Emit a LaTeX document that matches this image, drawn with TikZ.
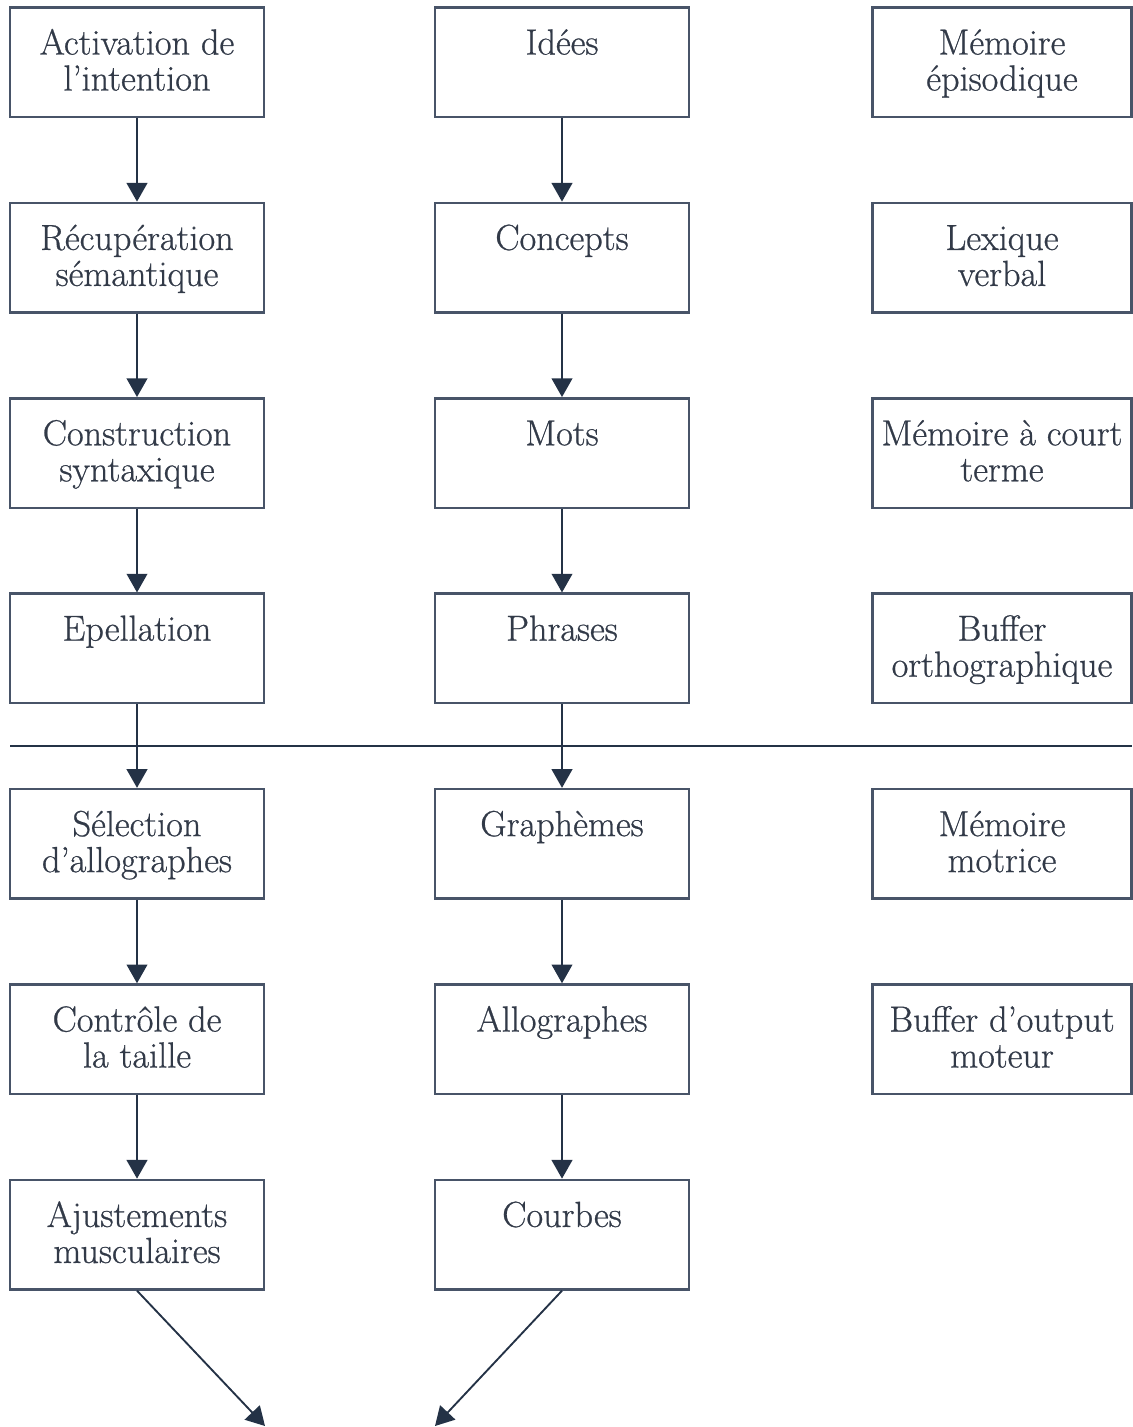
\documentclass[tikz,border=0pt]{standalone}
\usepackage{fontspec}
\usetikzlibrary{arrows.meta}
\newfontfamily\bxfont[Ligatures=TeX,RawFeature={embolden=0.7}]{Latin Modern Roman}
\definecolor{boxcol}{RGB}{72,84,104}
\definecolor{arrcol}{RGB}{36,50,70}
\definecolor{txtcol}{RGB}{50,58,72}
\newcommand\bxt[2][190pt]{\parbox[c][80pt][t]{#1}{\centering\bxfont\fontsize{27.2}{27}\selectfont\rule{0pt}{34.2pt}#2}}
\begin{document}
\begin{tikzpicture}[x=0.75pt,y=-0.75pt,
  box/.style={draw=boxcol, line width=1.9pt, text=txtcol, minimum width=190.5pt, minimum height=82.1pt, inner sep=0pt},
  rbox/.style={box, minimum width=194.25pt},
  arr/.style={draw=arrcol, line width=1.4pt, -{Triangle[width=15.5pt,length=14pt]}},
  sep/.style={draw=arrcol, line width=1.4pt}]
\useasboundingbox (0,0) rectangle (1132,1427);
% left column
\node[box] (a1) at (137,62.25) {\bxt{Activation de\\l’intention}};
\node[box] (a2) at (137,257.65) {\bxt{Récupération\\sémantique}};
\node[box] (a3) at (137,453.05) {\bxt{Construction\\syntaxique}};
\node[box] (a4) at (137,648.45) {\bxt{Epellation}};
\node[box] (a5) at (137,843.85) {\bxt{Sélection\\d’allographes}};
\node[box] (a6) at (137,1039.25) {\bxt{Contrôle de\\la taille}};
\node[box] (a7) at (137,1234.65) {\bxt{Ajustements\\musculaires}};
% middle column
\node[box] (b1) at (562,62.25) {\bxt{Idées}};
\node[box] (b2) at (562,257.65) {\bxt{Concepts}};
\node[box] (b3) at (562,453.05) {\bxt{Mots}};
\node[box] (b4) at (562,648.45) {\bxt{Phrases}};
\node[box] (b5) at (562,843.85) {\bxt{Graphèmes}};
\node[box] (b6) at (562,1039.25) {\bxt{Allographes}};
\node[box] (b7) at (562,1234.65) {\bxt{Courbes}};
% right column
\node[rbox] (c1) at (1002,62.25) {\bxt[194pt]{Mémoire\\épisodique}};
\node[rbox] (c2) at (1002,257.65) {\bxt[194pt]{Lexique\\verbal}};
\node[rbox] (c3) at (1002,453.05) {\bxt[194pt]{Mémoire à court\\terme}};
\node[rbox] (c4) at (1002,648.45) {\bxt[194pt]{Buffer\\orthographique}};
\node[rbox] (c5) at (1002,843.85) {\bxt[194pt]{Mémoire\\motrice}};
\node[rbox] (c6) at (1002,1039.25) {\bxt[194pt]{Buffer d’output\\moteur}};
% separator line
\coordinate (hl) at (10,746);
\coordinate (hr) at (1132,746);
\draw[sep] (hl) -- (hr);
% arrows
\foreach \i/\j in {1/2,2/3,3/4,4/5,5/6,6/7}{
  \draw[arr] (a\i.south) -- (a\j.north);
  \draw[arr] (b\i.south) -- (b\j.north);
}
\coordinate (e1) at (265,1426);
\coordinate (e2) at (435,1426);
\draw[arr] (a7.south) -- (e1);
\draw[arr] (b7.south) -- (e2);
\end{tikzpicture}
\end{document}
